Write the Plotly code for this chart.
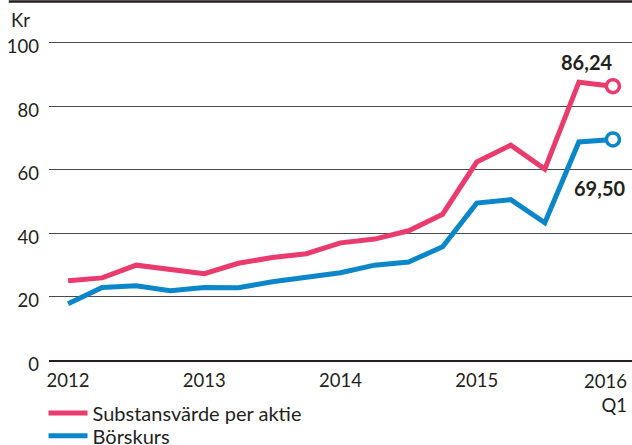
import plotly.graph_objects as go

quarters = ["2012 Q1", "2012 Q2", "2012 Q3", "2012 Q4",
            "2013 Q1", "2013 Q2", "2013 Q3", "2013 Q4",
            "2014 Q1", "2014 Q2", "2014 Q3", "2014 Q4",
            "2015 Q1", "2015 Q2", "2015 Q3", "2015 Q4",
            "2016 Q1"]
substansvarde = [25.1, 26.0, 30.0, 28.8, 27.3, 30.6, 32.4, 33.6, 37.0, 38.2,
                 40.8, 46.0, 62.4, 67.7, 60.2, 87.5, 86.24]
borskurs = [17.9, 23.0, 23.5, 22.0, 23.0, 22.9, 24.8, 26.3, 27.6, 30.0,
            31.0, 35.8, 49.5, 50.6, 43.3, 68.7, 69.50]
tick_labels = ["2012", "2013", "2014", "2015", "2016<br>Q1"]
y_ticks = [0, 20, 40, 60, 80, 100]

PINK = "#EA3B6E"
BLUE = "#0B87C9"
TXT = "#231F20"
FONT = "Lato"
FS = 20
TFS = 18.5

xi = list(range(len(quarters)))
last = len(quarters) - 1

fig = go.Figure()
fig.add_trace(go.Scatter(
    x=xi, y=substansvarde, mode="lines", name="Substansvärde per aktie",
    line=dict(color=PINK, width=5), legend="legend"))
fig.add_trace(go.Scatter(
    x=xi, y=borskurs, mode="lines", name="Börskurs",
    line=dict(color=BLUE, width=5), legend="legend2"))
# end markers
fig.add_trace(go.Scatter(
    x=[last], y=[substansvarde[-1]], mode="markers", showlegend=False,
    marker=dict(size=13, color="white", line=dict(color=PINK, width=3.5))))
fig.add_trace(go.Scatter(
    x=[last], y=[borskurs[-1]], mode="markers", showlegend=False,
    marker=dict(size=13, color="white", line=dict(color=BLUE, width=3.5))))

def fmt(v):
    return f"{v:.2f}".replace(".", ",")

fig.add_annotation(x=last, y=substansvarde[-1], text=f"<b>{fmt(substansvarde[-1])}</b>",
                   showarrow=False, xshift=-26, yshift=24,
                   font=dict(family=FONT, size=FS, color=TXT))
fig.add_annotation(x=last, y=borskurs[-1], text=f"<b>{fmt(borskurs[-1])}</b>",
                   showarrow=False, xshift=-13, yshift=-49,
                   font=dict(family=FONT, size=FS, color=TXT))
# last x tick label (right aligned so it stays inside the picture)
fig.add_annotation(x=last, y=0, text=tick_labels[-1], showarrow=False,
                   xanchor="right", yanchor="top", align="right",
                   xshift=16, yshift=-7,
                   font=dict(family=FONT, size=TFS, color=TXT))
fig.add_annotation(xref="paper", yref="paper", x=-0.069, y=1.0, text="Kr",
                   showarrow=False, xanchor="left", yanchor="bottom", yshift=3,
                   font=dict(family=FONT, size=TFS, color=TXT))
fig.add_shape(type="line", xref="paper", yref="paper", x0=-0.069, x1=1.0,
              y0=1.104, y1=1.104, line=dict(color="#231F20", width=2.5))

leg_common = dict(x=-0.0094, xanchor="left", yanchor="top",
                  font=dict(family=FONT, size=FS, color=TXT),
                  bgcolor="rgba(0,0,0,0)", itemwidth=39)

fig.update_layout(
    width=632, height=445,
    margin=dict(l=49, r=0, t=36, b=78, autoexpand=False),
    paper_bgcolor="white", plot_bgcolor="white",
    font=dict(family=FONT, size=FS, color=TXT),
    showlegend=True,
    legend=dict(y=-0.08, **leg_common),
    legend2=dict(y=-0.149, **leg_common),
    xaxis=dict(range=[-0.56, 16.56], tickvals=[0, 4, 8, 12],
               ticktext=tick_labels[:-1], showgrid=False, zeroline=False,
               showline=False, ticks="", tickfont=dict(size=TFS),
               automargin=False),
    yaxis=dict(range=[-2, 102], tickvals=y_ticks, showgrid=True,
               gridcolor="#4a4a4a", gridwidth=1.3, zeroline=True,
               zerolinecolor="#231F20", zerolinewidth=1.5, showline=False,
               ticks="", ticklabelstandoff=9, ticklabelshift=4,
               tickfont=dict(size=TFS), automargin=False),
)

fig.write_html("out.html", config={"displayModeBar": False},
               post_script="document.body.style.margin='0px';document.body.style.overflow='hidden';")
